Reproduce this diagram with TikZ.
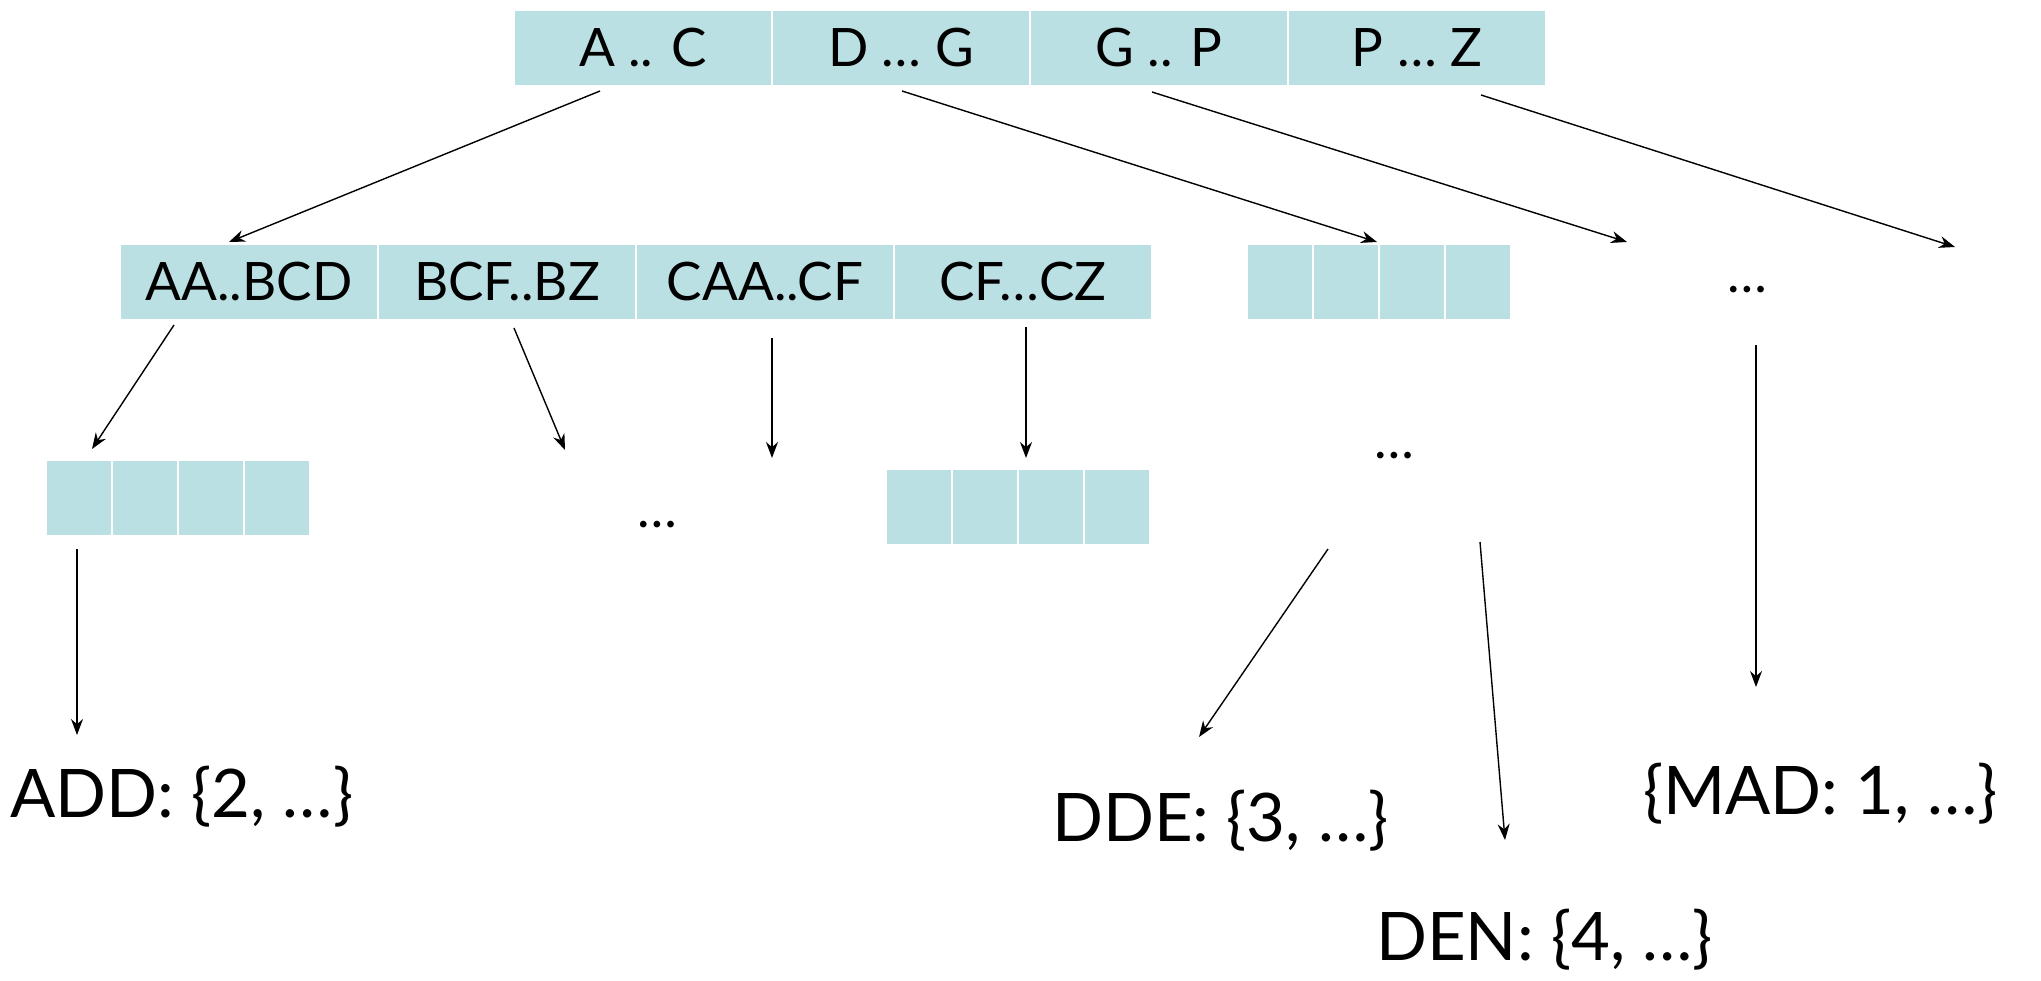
\documentclass[tikz,border=0pt]{standalone}
\usepackage{fontspec}
\setmainfont{Lato}
\usetikzlibrary{arrows.meta}
\definecolor{cellfill}{HTML}{BBE0E3}
\tikzset{
  cell/.style={rectangle, fill=cellfill, draw=white, line width=2.5pt, minimum width=258pt, minimum height=76pt, inner sep=0pt, font=\fontsize{53}{62}\selectfont},
  smallcell/.style={cell, minimum width=66pt},
  big/.style={inner sep=0pt, font=\fontsize{67}{78}\selectfont},
  dots/.style={inner sep=0pt, font=\fontsize{53}{62}\selectfont},
  conn/.style={-{Stealth[length=16pt,width=12pt]}, line width=1.4pt}
}
\begin{document}
\begin{tikzpicture}[x=1pt,y=-1pt]
\useasboundingbox (0,0) rectangle (2041,981);
% top row
\node[cell] (t1) at (643,48) {A .. C};
\node[cell] (t2) at (901,48) {D … G};
\node[cell] (t3) at (1159,48) {G .. P};
\node[cell] (t4) at (1417,48) {P … Z};
% second row
\node[cell] (s1) at (249,282) {AA..BCD};
\node[cell] (s2) at (507,282) {BCF..BZ};
\node[cell] (s3) at (765,282) {CAA..CF};
\node[cell] (s4) at (1023,282) {CF…CZ};
\node[smallcell] (r1) at (1280,282) {};
\node[smallcell] (r2) at (1346,282) {};
\node[smallcell] (r3) at (1412,282) {};
\node[smallcell] (r4) at (1478,282) {};
\node[dots] (d1) at (1747,290) {…};
% third row
\node[smallcell] (l1) at (79,498) {};
\node[smallcell] (l2) at (145,498) {};
\node[smallcell] (l3) at (211,498) {};
\node[smallcell] (l4) at (277,498) {};
\node[dots] (d2) at (657,525) {…};
\node[smallcell] (m1) at (919,507) {};
\node[smallcell] (m2) at (985,507) {};
\node[smallcell] (m3) at (1051,507) {};
\node[smallcell] (m4) at (1117,507) {};
\node[dots] (d3) at (1394,456) {…};
% leaves
\node[big, anchor=west] (add) at (10,797) {ADD: \{2, …\}};
\node[big, anchor=west] (dde) at (1052,821) {DDE: \{3, …\}};
\node[big, anchor=west] (mad) at (1643,794) {\{MAD: 1, …\}};
\node[big, anchor=west] (den) at (1376,940) {DEN: \{4, …\}};
% connector end points
\coordinate (t1s) at (600,91);   \coordinate (s1e) at (229,242);
\coordinate (t2s) at (902,91);   \coordinate (r2e) at (1377,242);
\coordinate (t3s) at (1152,92);  \coordinate (d1e) at (1627,242);
\coordinate (t4s) at (1481,95);  \coordinate (d1f) at (1955,247);
\coordinate (s1s) at (174,325);  \coordinate (l1e) at (92,449);
\coordinate (s2s) at (514,328);  \coordinate (d2e) at (565,450);
\coordinate (s3s) at (772,338);  \coordinate (d2f) at (772,458);
\coordinate (s4s) at (1026,327); \coordinate (m2e) at (1026,458);
\coordinate (d1s) at (1756,345); \coordinate (made) at (1756,687);
\coordinate (l1s) at (77,549);   \coordinate (adde) at (77,735);
\coordinate (d3s) at (1328,549); \coordinate (ddee) at (1199,737);
\coordinate (d3t) at (1480,542); \coordinate (dene) at (1505,840);
\draw[conn] (t1s) -- (s1e);
\draw[conn] (t2s) -- (r2e);
\draw[conn] (t3s) -- (d1e);
\draw[conn] (t4s) -- (d1f);
\draw[conn] (s1s) -- (l1e);
\draw[conn] (s2s) -- (d2e);
\draw[conn] (s3s) -- (d2f);
\draw[conn] (s4s) -- (m2e);
\draw[conn] (d1s) -- (made);
\draw[conn] (l1s) -- (adde);
\draw[conn] (d3s) -- (ddee);
\draw[conn] (d3t) -- (dene);
\end{tikzpicture}
\end{document}
